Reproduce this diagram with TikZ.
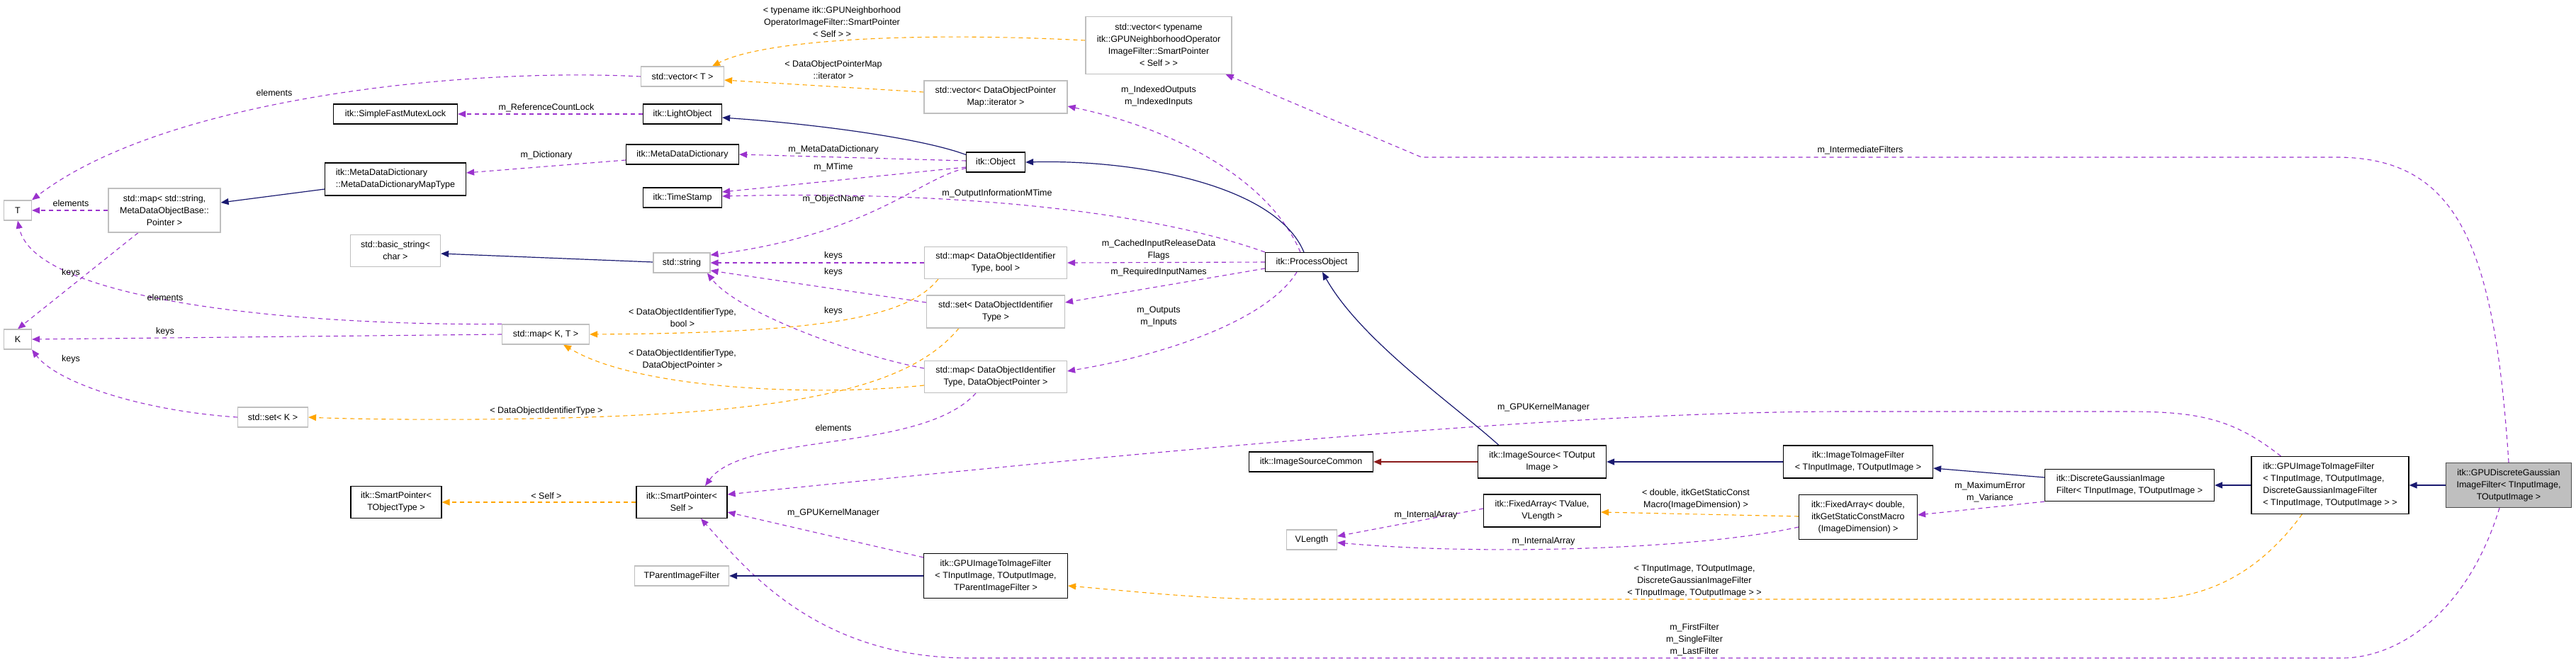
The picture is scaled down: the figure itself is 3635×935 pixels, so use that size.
\documentclass[tikz,border=0pt]{standalone}
\usepackage{fontspec}
\setmainfont{Liberation Sans}
\usetikzlibrary{arrows.meta,calc,backgrounds}
\definecolor{use}{HTML}{9A32CD}
\definecolor{tpl}{HTML}{FFA500}
\definecolor{inh}{HTML}{191970}
\definecolor{pinh}{HTML}{8B1A1A}
\definecolor{gb}{HTML}{BFBFBF}
\begin{document}
\begin{tikzpicture}[x=1pt,y=-1pt,
  every node/.style={font=\fontsize{12.5}{17}\selectfont},
  box/.style={draw=black,fill=white,line width=1.2pt,inner sep=1pt,align=center},
  gbox/.style={draw=gb,fill=white,line width=1.2pt,inner sep=1pt,align=center},
  lbl/.style={inner sep=0pt,align=center},
  tip/.style={-{Triangle[length=11pt,width=9pt]}},
  usee/.style={tip,draw=use,dash pattern=on 6pt off 5pt,line width=1.1pt},
  tple/.style={tip,draw=tpl,dash pattern=on 6pt off 5pt,line width=1.1pt},
  inhe/.style={tip,draw=inh,line width=1.2pt},
  pinhe/.style={tip,draw=pinh,line width=1.2pt}]
\useasboundingbox (0,0) rectangle (3635,935);
% nodes
\node[gbox,minimum width=39,minimum height=28] (T) at (25,297) {T};
\node[gbox,minimum width=39,minimum height=28] (K) at (25,479) {K};
\node[gbox,minimum width=158,minimum height=62] (mapStr) at (232,297) {std::map< std::string,\\ MetaDataObjectBase::\\ Pointer >};
\node[gbox,minimum width=123,minimum height=28] (mapKT) at (770,472) {std::map< K, T >};
\node[gbox,minimum width=99,minimum height=28] (setK) at (385,589) {std::set< K >};
\node[box,minimum width=175,minimum height=28] (mutex) at (558,161) {itk::SimpleFastMutexLock};
\node[box,minimum width=199,minimum height=46,align=left] (maptype) at (558,253) {itk::MetaDataDictionary\\ ::MetaDataDictionaryMapType};
\node[gbox,minimum width=127,minimum height=45] (basic) at (558,354) {std::basic\_string<\\ char >};
\node[box,minimum width=128,minimum height=45] (spT) at (559,709) {itk::SmartPointer<\\ TObjectType >};
\node[gbox,minimum width=117,minimum height=28] (vecT) at (963,108) {std::vector< T >};
\node[box,minimum width=111,minimum height=28] (light) at (963,161) {itk::LightObject};
\node[box,minimum width=159,minimum height=28] (mdd) at (963,218) {itk::MetaDataDictionary};
\node[box,minimum width=111,minimum height=28] (ts) at (963,279) {itk::TimeStamp};
\node[gbox,minimum width=80,minimum height=28] (str) at (962,371) {std::string};
\node[box,minimum width=128,minimum height=45] (sp) at (962,709) {itk::SmartPointer<\\ Self >};
\node[gbox,minimum width=133,minimum height=28] (tparent) at (962,813) {TParentImageFilter};
\node[box,minimum width=83,minimum height=28] (obj) at (1405,229) {itk::Object};
\node[gbox,minimum width=202,minimum height=46] (vecIt) at (1405,137) {std::vector< DataObjectPointer\\ Map::iterator >};
\node[gbox,minimum width=206,minimum height=81] (vecTyp) at (1635,64) {std::vector< typename\\ itk::GPUNeighborhoodOperator\\ ImageFilter::SmartPointer\\ < Self > >};
\node[gbox,minimum width=201,minimum height=45] (mapBool) at (1405,371) {std::map< DataObjectIdentifier\\ Type, bool >};
\node[gbox,minimum width=195,minimum height=46] (setDO) at (1405,440) {std::set< DataObjectIdentifier\\ Type >};
\node[gbox,minimum width=201,minimum height=45] (mapDOP) at (1405,532) {std::map< DataObjectIdentifier\\ Type, DataObjectPointer >};
\node[box,minimum width=203,minimum height=63] (gpuTP) at (1405,813) {itk::GPUImageToImageFilter\\ < TInputImage, TOutputImage,\\ TParentImageFilter >};
\node[box,minimum width=131,minimum height=27] (proc) at (1851,370) {itk::ProcessObject};
\node[box,minimum width=175,minimum height=28] (isc) at (1850,652) {itk::ImageSourceCommon};
\node[box,minimum width=181,minimum height=46] (isrc) at (2176,652) {itk::ImageSource< TOutput\\ Image >};
\node[box,minimum width=165,minimum height=46] (fa1) at (2176,721) {itk::FixedArray< TValue,\\ VLength >};
\node[gbox,minimum width=71,minimum height=28] (vlen) at (1851,762) {VLength};
\node[box,minimum width=211,minimum height=46] (itoi) at (2622,652) {itk::ImageToImageFilter\\ < TInputImage, TOutputImage >};
\node[box,minimum width=167,minimum height=63] (fa2) at (2622,730) {itk::FixedArray< double,\\ itkGetStaticConstMacro\\ (ImageDimension) >};
\node[box,minimum width=239,minimum height=45,align=left] (dg) at (3005,685) {itk::DiscreteGaussianImage\\ Filter< TInputImage, TOutputImage >};
\node[box,minimum width=222,minimum height=81,align=left] (gpudg) at (3288,685) {itk::GPUImageToImageFilter\\ < TInputImage, TOutputImage,\\ DiscreteGaussianImageFilter\\ < TInputImage, TOutputImage > >};
\node[gbox,draw=black!70,fill=gb,minimum width=177,minimum height=63] (gdisc) at (3540,685) {itk::GPUDiscreteGaussian\\ ImageFilter< TInputImage,\\ TOutputImage >};
\begin{pgfonlayer}{background}
% usage edges
\draw[usee] (vecT.west) .. controls (650,95) and (230,140) .. (T.north east);
\draw[usee] (mapStr.west) -- (T.east);
\draw[usee] ($(mapStr.south)+(-37,0)$) -- (K.north);
\draw[usee] (mapKT.north west) .. controls (450,460) and (50,430) .. (T.south);
\draw[usee] (mapKT.west) -- (K.east);
\draw[usee] (setK.west) .. controls (200,580) and (80,540) .. (K.south east);
\draw[usee] (light.west) -- (mutex.east);
\draw[usee] ($(mdd.west)+(0,8)$) -- ($(maptype.east)+(0,-9)$);
\draw[usee] ($(obj.west)+(0,-2)$) -- (mdd.east);
\draw[usee] ($(obj.west)+(0,7)$) -- ($(ts.east)+(0,-8)$);
\draw[usee] ($(obj.south west)+(0,-6)$) .. controls (1300,250) and (1230,330) .. ($(str.east)+(0,-11)$);
\draw[usee] (proc.north west) .. controls (1600,290) and (1300,270) .. ($(ts.east)+(0,-2)$);
\draw[usee] ($(proc.north west)+(50,0)$) .. controls (1790,250) and (1650,180) .. ($(vecIt.east)+(0,13)$);
\draw[usee] (proc.west) -- (mapBool.east);
\draw[usee] ($(proc.west)+(0,9)$) -- ($(setDO.east)+(0,-13)$);
\draw[usee] ($(proc.south west)+(45,0)$) .. controls (1790,450) and (1650,500) .. ($(mapDOP.east)+(0,-8)$);
\draw[usee] (mapBool.west) -- (str.east);
\draw[usee] ($(setDO.west)+(0,-13)$) -- ($(str.east)+(0,11)$);
\draw[usee] ($(mapDOP.west)+(0,-12)$) .. controls (1200,500) and (1040,440) .. ($(str.south)+(36,0)$);
\draw[usee] ($(mapDOP.south)+(-28,0)$) .. controls (1300,640) and (1050,610) .. ($(sp.north)+(33,0)$);
\draw[usee] ($(gpudg.north west)+(42,0)$) .. controls (3150,590) and (3100,581) .. (3000,581) -- (2600,581) .. controls (2200,581) and (1600,640) .. ($(sp.east)+(0,-11)$);
\draw[usee] ($(gpuTP.north west)+(0,6)$) -- ($(sp.east)+(0,14)$);
\draw[usee] ($(gdisc.south)+(-13,0)$) .. controls (3480,870) and (3380,929) .. (3305,929) -- (1368,929) .. controls (1150,929) and (1050,800) .. ($(sp.south)+(27,0)$);
\draw[usee] (gdisc.north) .. controls (3520,350) and (3470,222) .. (3297,222) -- (2006,222) -- ($(vecTyp.south east)+(-9,0)$);
\draw[usee] ($(fa1.west)+(0,-3)$) -- ($(vlen.east)+(0,-5)$);
\draw[usee] ($(fa2.west)+(0,14)$) .. controls (2400,775) and (2100,785) .. ($(vlen.east)+(0,4)$);
\draw[usee] (dg.south west) -- ($(fa2.east)+(0,-3)$);
% template edges
\draw[tple] ($(vecTyp.west)+(0,-7)$) .. controls (1300,45) and (1080,55) .. ($(vecT.north)+(42,0)$);
\draw[tple] ($(vecIt.west)+(0,-7)$) -- ($(vecT.east)+(0,5)$);
\draw[tple] ($(mapBool.south west)+(20,0)$) .. controls (1280,450) and (1150,470) .. (mapKT.east);
\draw[tple] ($(setDO.south west)+(46,0)$) .. controls (1290,540) and (1150,575) .. (880,587) .. controls (700,595) and (500,592) .. (setK.east);
\draw[tple] ($(mapDOP.west)+(0,12)$) .. controls (1150,560) and (900,550) .. ($(mapKT.south)+(25,0)$);
\draw[tple] (sp.west) -- (spT.east);
\draw[tple] ($(fa2.west)+(0,-1)$) -- ($(fa1.east)+(0,2)$);
\draw[tple] ($(gpudg.south west)+(72,0)$) .. controls (3180,820) and (3100,846) .. (3027,846) -- (1800,846) .. controls (1700,846) and (1600,835) .. ($(gpuTP.east)+(0,14)$);
% inheritance edges
\draw[inhe] ($(obj.north west)+(0,4)$) .. controls (1300,195) and (1150,175) .. ($(light.east)+(0,5)$);
\draw[inhe] ($(proc.north west)+(55,0)$) .. controls (1800,260) and (1600,225) .. (obj.east);
\draw[inhe] ($(isrc.north west)+(30,0)$) .. controls (2050,570) and (1920,480) .. ($(proc.south)+(15,0)$);
\draw[inhe] (itoi.west) -- (isrc.east);
\draw[inhe] ($(dg.west)+(0,-11)$) -- ($(itoi.east)+(0,9)$);
\draw[inhe] (gpudg.west) -- (dg.east);
\draw[inhe] (gdisc.west) -- (gpudg.east);
\draw[inhe] (gpuTP.west) -- (tparent.east);
\draw[inhe] ($(maptype.west)+(0,14)$) -- ($(mapStr.east)+(0,-11)$);
\draw[inhe] ($(str.west)+(0,-1)$) -- ($(basic.east)+(0,4)$);
\draw[pinhe] (isrc.west) -- (isc.east);
\end{pgfonlayer}
% labels
\node[lbl] (l1) at (387,131) {elements};
\node[lbl] (l2) at (100,287) {elements};
\node[lbl] (l3) at (100,385) {keys};
\node[lbl] (l4) at (233,420) {elements};
\node[lbl] (l5) at (233,468) {keys};
\node[lbl] (l6) at (100,507) {keys};
\node[lbl] (l7) at (771,152) {m\_ReferenceCountLock};
\node[lbl] (l8) at (771,219) {m\_Dictionary};
\node[lbl] (l9) at (771,580) {< DataObjectIdentifierType >};
\node[lbl] (l10) at (771,700) {< Self >};
\node[lbl] (l11) at (1174,31) {< typename itk::GPUNeighborhood\\ OperatorImageFilter::SmartPointer\\ < Self > >};
\node[lbl] (l12) at (1176,99) {< DataObjectPointerMap\\ ::iterator >};
\node[lbl] (l13) at (1635,136) {m\_IndexedOutputs\\ m\_IndexedInputs};
\node[lbl] (l14) at (1176,211) {m\_MetaDataDictionary};
\node[lbl] (l15) at (1176,236) {m\_MTime};
\node[lbl] (l16) at (1176,281) {m\_ObjectName};
\node[lbl] (l17) at (1407,273) {m\_OutputInformationMTime};
\node[lbl] (l18) at (1176,361) {keys};
\node[lbl] (l19) at (1176,384) {keys};
\node[lbl] (l20) at (1635,353) {m\_CachedInputReleaseData\\ Flags};
\node[lbl] (l21) at (1635,384) {m\_RequiredInputNames};
\node[lbl] (l22) at (963,449) {< DataObjectIdentifierType,\\ bool >};
\node[lbl] (l23) at (1176,439) {keys};
\node[lbl] (l24) at (1635,447) {m\_Outputs\\ m\_Inputs};
\node[lbl] (l25) at (963,508) {< DataObjectIdentifierType,\\ DataObjectPointer >};
\node[lbl] (l26) at (1176,604) {elements};
\node[lbl] (l27) at (1176,724) {m\_GPUKernelManager};
\node[lbl] (l28) at (2178,575) {m\_GPUKernelManager};
\node[lbl] (l29) at (2393,705) {< double, itkGetStaticConst\\ Macro(ImageDimension) >};
\node[lbl] (l30) at (2012,727) {m\_InternalArray};
\node[lbl] (l31) at (2178,764) {m\_InternalArray};
\node[lbl] (l32) at (2391,820) {< TInputImage, TOutputImage,\\ DiscreteGaussianImageFilter\\ < TInputImage, TOutputImage > >};
\node[lbl] (l33) at (2808,695) {m\_MaximumError\\ m\_Variance};
\node[lbl] (l34) at (2625,212) {m\_IntermediateFilters};
\node[lbl] (l35) at (2391,903) {m\_FirstFilter\\ m\_SingleFilter\\ m\_LastFilter};
\end{tikzpicture}
\end{document}
